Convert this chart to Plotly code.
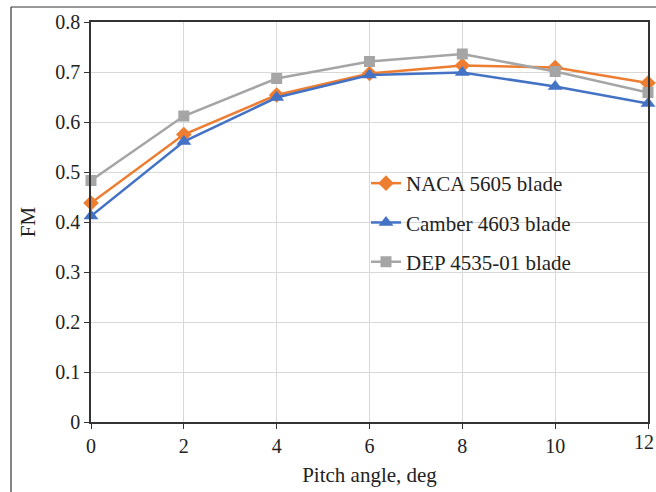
import plotly.graph_objects as go

pitch = [0, 2, 4, 6, 8, 10, 12]
naca_5605 = [0.438, 0.575, 0.654, 0.697, 0.713, 0.709, 0.678]
camber_4603 = [0.412, 0.561, 0.649, 0.694, 0.699, 0.671, 0.637]
dep_4535_01 = [0.483, 0.612, 0.687, 0.721, 0.736, 0.701, 0.659]
series_names = ["NACA 5605 blade", "Camber 4603 blade", "DEP 4535-01 blade"]
y_ticks = [0, 0.1, 0.2, 0.3, 0.4, 0.5, 0.6, 0.7, 0.8]
x_ticks = [0, 2, 4, 6, 8, 10, 12]

FONT = "Liberation Serif, Times New Roman, serif"
TICK_SIZE = 20

fig = go.Figure()
styles = [
    (naca_5605, "#ED7D31", "diamond", 12),
    (camber_4603, "#4472C4", "triangle-up", 13),
    (dep_4535_01, "#A5A5A5", "square", 11),
]
for i, (name, (vals, col, sym, sz)) in enumerate(zip(series_names, styles)):
    fig.add_trace(go.Scatter(
        x=pitch, y=vals, name=name, mode="lines+markers",
        line=dict(color=col, width=2.5),
        marker=dict(symbol=sym, size=sz, color=col),
        cliponaxis=False, legendgroup=f"g{i}",
    ))

L, R, T, B = 91, 8, 22, 70
W, H = 656, 492
pw = W - L - R
ph = H - T - B

def px(x):
    return (x - L) / pw

def py(y):
    return (H - B - y) / ph

# last x tick label sits at the page edge in the original; draw it explicitly
fig.add_annotation(
    x=x_ticks[-1], y=0, xref="x", yref="y", text=str(x_ticks[-1]),
    showarrow=False, yanchor="top", xanchor="center", yshift=-7, xshift=-4,
    font=dict(family=FONT, size=TICK_SIZE, color="#222222"),
)

fig.update_layout(
    width=W, height=H,
    margin=dict(l=L, r=R, t=T, b=B, autoexpand=False),
    paper_bgcolor="white", plot_bgcolor="white",
    font=dict(family=FONT, size=TICK_SIZE, color="#222222"),
    showlegend=True,
    legend=dict(
        x=px(366), y=py(163), xanchor="left", yanchor="top",
        bgcolor="rgba(255,255,255,0)", font=dict(family=FONT, size=21, color="#222222"),
        tracegroupgap=9, traceorder="grouped",
    ),
    xaxis=dict(
        range=[0, 12], tickvals=x_ticks, ticktext=[str(v) for v in x_ticks],
        showgrid=True, gridcolor="#D9D9D9", gridwidth=1,
        showline=True, linecolor="#333333", linewidth=1.5, mirror=True,
        ticks="outside", ticklen=5, tickcolor="#333333",
        zeroline=False, automargin=False,
        title=dict(text="Pitch angle, deg", font=dict(family=FONT, size=21), standoff=12),
        tickfont=dict(family=FONT, size=TICK_SIZE),
    ),
    yaxis=dict(
        range=[0, 0.8], tickvals=y_ticks, ticktext=[("0" if v == 0 else f"{v:.1f}") for v in y_ticks],
        showgrid=True, gridcolor="#D9D9D9", gridwidth=1,
        showline=True, linecolor="#333333", linewidth=1.5, mirror=True,
        ticks="outside", ticklen=5, tickcolor="#333333",
        zeroline=False, automargin=False,
        title=dict(text="FM", font=dict(family=FONT, size=21), standoff=14),
        tickfont=dict(family=FONT, size=TICK_SIZE),
    ),
    shapes=[
        dict(type="line", xref="paper", yref="paper", x0=px(11), x1=px(670), y0=py(7), y1=py(7),
             line=dict(color="#333333", width=1.2)),
        dict(type="line", xref="paper", yref="paper", x0=px(11), x1=px(11), y0=py(7), y1=py(500),
             line=dict(color="#333333", width=1.2)),
    ],
)

fig.write_html("out.html")
